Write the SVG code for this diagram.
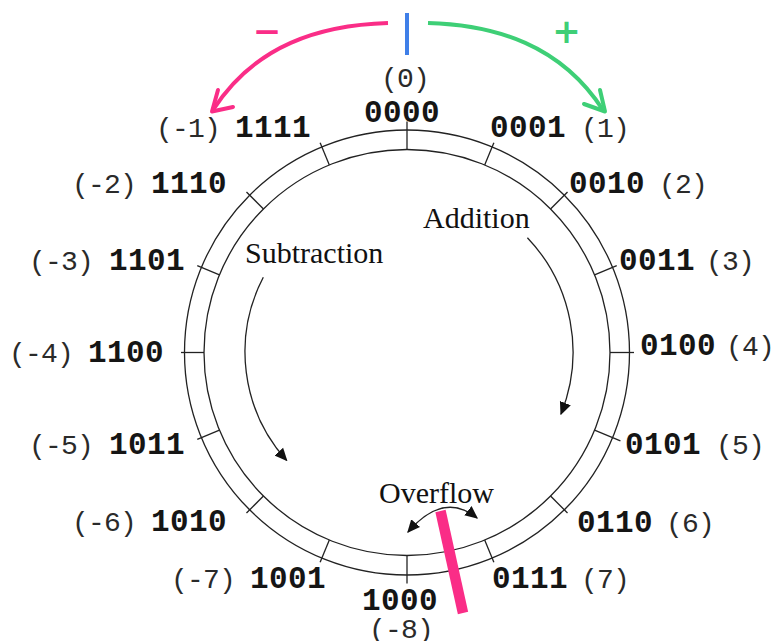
<svg xmlns="http://www.w3.org/2000/svg" width="775" height="641" viewBox="0 0 775 641">
<defs>
<style>
.b{font-family:"Liberation Mono",monospace;font-weight:bold;font-size:31px;letter-spacing:0.4px;fill:#151515}
.p{font-family:"Liberation Mono",monospace;font-size:28px;letter-spacing:-0.8px;fill:#2a2a2a}
.s{font-family:"Liberation Serif",serif;font-size:30px;fill:#111}
.ring{fill:none;stroke:#222;stroke-width:1.3}
.tick{stroke:#222;stroke-width:1.3}
.thin{fill:none;stroke:#222;stroke-width:1.3}
</style>
<marker id="ah" viewBox="0 0 10 10" refX="9" refY="5" markerWidth="13" markerHeight="13" markerUnits="userSpaceOnUse" orient="auto-start-reverse">
<path d="M0,0.5 L10,5 L0,9.5 z" fill="#111"/>
</marker>
</defs>
<rect width="775" height="641" fill="#fff"/>

<g id="ring">
<circle class="ring" cx="407" cy="352.5" r="222.5"/>
<circle class="ring" cx="407" cy="352.5" r="203"/>
<g class="tick">
<line x1="407" y1="149.5" x2="407" y2="121.5"/>
<line x1="484.68" y1="164.95" x2="493.87" y2="142.78"/>
<line x1="550.54" y1="208.96" x2="567.51" y2="191.99"/>
<line x1="594.55" y1="274.82" x2="616.72" y2="265.63"/>
<line x1="610" y1="352.5" x2="634" y2="352.5"/>
<line x1="594.55" y1="430.18" x2="620.42" y2="440.9"/>
<line x1="550.54" y1="496.04" x2="567.51" y2="513.01"/>
<line x1="484.68" y1="540.05" x2="493.87" y2="562.22"/>
<line x1="407" y1="555.5" x2="407" y2="583.5"/>
<line x1="329.32" y1="540.05" x2="320.13" y2="562.22"/>
<line x1="263.46" y1="496.04" x2="246.49" y2="513.01"/>
<line x1="219.45" y1="430.18" x2="197.28" y2="439.37"/>
<line x1="204" y1="352.5" x2="181" y2="352.5"/>
<line x1="219.45" y1="274.82" x2="197.28" y2="265.63"/>
<line x1="263.46" y1="208.96" x2="246.49" y2="191.99"/>
<line x1="329.32" y1="164.95" x2="320.13" y2="142.78"/>
</g>
</g>

<g id="n0"><text class="p" x="381" y="87">(0)</text><text class="b" x="364" y="122">0000</text></g>
<g id="n1"><text class="b" x="490" y="137">0001</text><text class="p" x="581" y="137">(1)</text></g>
<g id="n2"><text class="b" x="569" y="193">0010</text><text class="p" x="659" y="193">(2)</text></g>
<g id="n3"><text class="b" x="619" y="270">0011</text><text class="p" x="706" y="270">(3)</text></g>
<g id="n4"><text class="b" x="640" y="355">0100</text><text class="p" x="726" y="355">(4)</text></g>
<g id="n5"><text class="b" x="625" y="454">0101</text><text class="p" x="716" y="454">(5)</text></g>
<g id="n6"><text class="b" x="577" y="532">0110</text><text class="p" x="666" y="532">(6)</text></g>
<g id="n7"><text class="b" x="492" y="588">0111</text><text class="p" x="581" y="588">(7)</text></g>
<g id="n8"><text class="b" x="362" y="610">1000</text><text class="p" x="369" y="638">(-8)</text></g>
<g id="n9"><text class="p" x="171" y="588">(-7)</text><text class="b" x="250" y="588">1001</text></g>
<g id="n10"><text class="p" x="72" y="531">(-6)</text><text class="b" x="151" y="531">1010</text></g>
<g id="n11"><text class="p" x="29" y="454">(-5)</text><text class="b" x="109" y="454">1011</text></g>
<g id="n12"><text class="p" x="9" y="362">(-4)</text><text class="b" x="88" y="362">1100</text></g>
<g id="n13"><text class="p" x="29" y="270">(-3)</text><text class="b" x="109" y="270">1101</text></g>
<g id="n14"><text class="p" x="72" y="193">(-2)</text><text class="b" x="151" y="193">1110</text></g>
<g id="n15"><text class="p" x="156" y="137">(-1)</text><text class="b" x="235" y="137">1111</text></g>

<g id="labels">
<text class="s" x="423" y="228">Addition</text>
<text class="s" x="245" y="263">Subtraction</text>
<text class="s" x="379" y="503">Overflow</text>
</g>

<g id="connectors">
<path class="thin" d="M 527.4 237.7 A 166 166 0 0 1 561 414" marker-end="url(#ah)"/>
<path class="thin" d="M 263.3 277.2 A 162 162 0 0 0 286.6 460.4" marker-end="url(#ah)"/>
<path class="thin" d="M 408 532 Q 443.5 491 477 518" marker-start="url(#ah)" marker-end="url(#ah)"/>
<line x1="440.5" y1="511" x2="463" y2="613" stroke="#fa2d87" stroke-width="10.5"/>
<line x1="407" y1="13" x2="407" y2="55" stroke="#3f7fe8" stroke-width="4"/>
<path d="M 388 23 C 320 25, 255 45, 213 110" fill="none" stroke="#fa2d87" stroke-width="4"/>
<polyline points="218,90 212,111.5 233,107" fill="none" stroke="#fa2d87" stroke-width="4" stroke-linecap="round" stroke-linejoin="round"/>
<path d="M 428 23 C 496 25, 561 45, 603 110" fill="none" stroke="#3ecf76" stroke-width="4"/>
<polyline points="600,90 605,111.5 584,104" fill="none" stroke="#3ecf76" stroke-width="4" stroke-linecap="round" stroke-linejoin="round"/>
</g>

<g id="signs">
<text x="267" y="42.5" text-anchor="middle" font-family="DejaVu Sans, sans-serif" font-weight="bold" font-size="34" fill="#fa2d87">−</text>
<text x="566.5" y="43" text-anchor="middle" font-family="DejaVu Sans, sans-serif" font-weight="bold" font-size="34" fill="#3ecf76">+</text>
</g>
</svg>
